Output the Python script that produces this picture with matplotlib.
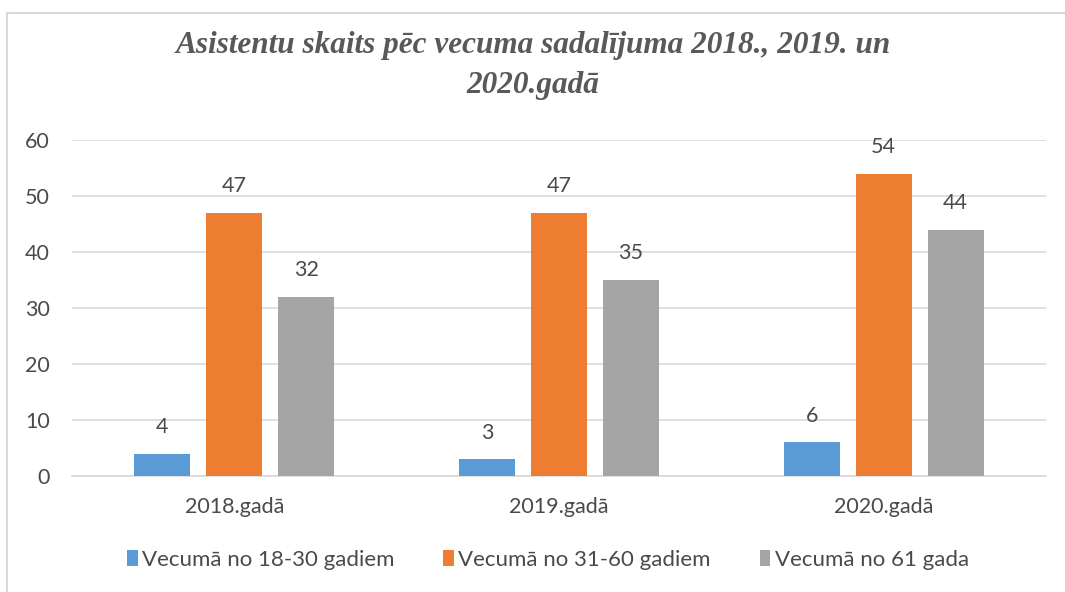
import matplotlib
matplotlib.use('Agg')
import matplotlib.pyplot as plt
from matplotlib.patches import Rectangle
import numpy as np

years = ['2018.gadā', '2019.gadā', '2020.gadā']
age_18_30 = [4, 3, 6]
age_31_60 = [47, 47, 54]
age_61 = [32, 35, 44]
series_names = ['Vecumā no 18-30 gadiem', 'Vecumā no 31-60 gadiem', 'Vecumā no 61 gada']
colors = ['#5B9BD5', '#ED7D31', '#A5A5A5']

txt = '#4a4a4a'
sans = ['Lato', 'DejaVu Sans']
plt.rcParams['font.family'] = sans

fig = plt.figure(figsize=(10.65, 5.92), dpi=100)
W, H = 1065, 592
ax = fig.add_axes([72 / W, (H - 476) / H, (1046 - 72) / W, (476 - 140) / H])

# chart border (runs off the right and bottom edges)
fig.patches.append(Rectangle((7 / W, -0.05), 1.1, 1 - 13 / H + 0.05, transform=fig.transFigure,
                             fill=False, edgecolor='#D9D9D9', lw=1.5))

x = np.arange(len(years))
width = 0.1725
step = 0.2217
for i, (vals, name, c) in enumerate(zip([age_18_30, age_31_60, age_61], series_names, colors)):
    bars = ax.bar(x + (i - 1) * step, vals, width, color=c, label=name, zorder=3)
    for b, v in zip(bars, vals):
        ax.annotate(str(v), (b.get_x() + b.get_width() / 2, v), xytext=(0, 12),
                    textcoords='offset points', ha='center', va='bottom',
                    fontsize=15.5, color=txt)

ax.set_xlim(-0.5, 2.5)
ax.set_ylim(0, 60)
ax.set_yticks(range(0, 61, 10))
ax.set_xticks(x)
ax.set_xticklabels(years)
ax.grid(axis='y', color='#D9D9D9', lw=1.2, zorder=0)
for s in ['top', 'right', 'left']:
    ax.spines[s].set_visible(False)
ax.spines['bottom'].set_color('#D9D9D9')
ax.spines['bottom'].set_linewidth(1.2)
ax.tick_params(axis='both', length=0, labelsize=15.5, labelcolor=txt)
ax.tick_params(axis='y', pad=16)
ax.tick_params(axis='x', pad=15)

title_kw = dict(ha='center', va='center', fontsize=22.5, fontweight='bold', fontstyle='italic',
                family='Liberation Serif', color='#595959')
fig.text(533 / W, 1 - 45 / H, 'Asistentu skaits pēc vecuma sadalījuma 2018., 2019. un', **title_kw)
fig.text(533 / W, 1 - 86 / H, '2020.gadā', **title_kw)

fig.legend(loc='center', bbox_to_anchor=(548 / W, 1 - 560 / H), ncol=3, frameon=False,
           fontsize=16, labelcolor=txt, handlelength=0.47, handleheight=0.7,
           handletextpad=0.2, columnspacing=2.2)

fig.savefig('out.png', dpi=100)
